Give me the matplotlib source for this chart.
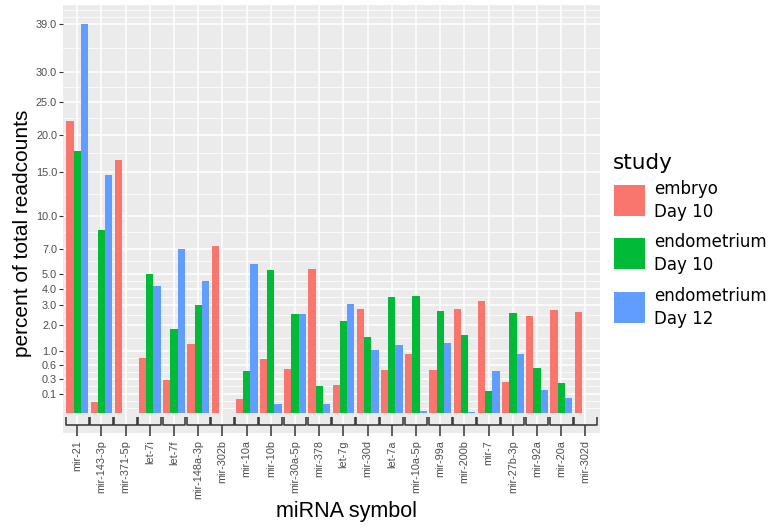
import numpy as np
import matplotlib
matplotlib.use("Agg")
import matplotlib.pyplot as plt
from matplotlib.patches import Rectangle

# values (percent of total readcounts)
mirnas = ["mir-21", "mir-143-3p", "mir-371-5p", "let-7i", "let-7f", "mir-148a-3p",
          "mir-302b", "mir-10a", "mir-10b", "mir-30a-5p", "mir-378", "let-7g",
          "mir-30d", "let-7a", "mir-10a-5p", "mir-99a", "mir-200b", "mir-7",
          "mir-27b-3p", "mir-92a", "mir-20a", "mir-302d"]
embryo_d10 = [22.1, 0.03, 16.6, 0.78, 0.28, 1.22, 7.2, 0.055, 0.77, 0.51, 5.35,
              0.20, 2.78, 0.49, 0.92, 0.49, 2.82, 3.26, 0.25, 2.43, 2.74, 2.62]
endo_d10 = [17.8, 8.7, 0, 5.0, 1.84, 3.0, 0, 0.45, 5.3, 2.55, 0.19,
            2.21, 1.51, 3.46, 3.56, 2.72, 1.57, 0.124, 2.6, 0.54, 0.23, 0]
endo_d12 = [39.0, 14.7, 0, 4.19, 6.97, 4.54, 0, 5.78, 0.024, 2.55, 0.021,
            3.09, 1.02, 1.19, 0.001, 1.26, 0.0005, 0.47, 0.915, 0.14, 0.063, 0]

study_labels = ["embryo\nDay 10", "endometrium\nDay 10", "endometrium\nDay 12"]
colors = ["#F8766D", "#00BA38", "#619CFF"]
yticks = [0.1, 0.3, 0.6, 1.0, 2.0, 3.0, 4.0, 5.0, 7.0, 10.0, 15.0, 20.0, 25.0, 30.0, 39.0]

plt.rcParams['font.family'] = ['Liberation Sans', 'DejaVu Sans']

W, H = 772, 528
fig = plt.figure(figsize=(W / 100, H / 100), dpi=100)

# panel in pixel coords
left, right, top, bottom = 62.7, 600, 5, 432.7
ax = fig.add_axes([left / W, 1 - bottom / H, (right - left) / W, (bottom - top) / H])
ax.set_facecolor("#EBEBEB")


def fwd(y):
    y = np.asarray(y, dtype=float)
    return np.sign(y) * np.sqrt(np.abs(y))


def inv(y):
    y = np.asarray(y, dtype=float)
    return np.sign(y) * y ** 2


ax.set_yscale('function', functions=(fwd, inv))

x = np.arange(len(mirnas))
series = [embryo_d10, endo_d10, endo_d12]
bw = 0.3
for k, vals in enumerate(series):
    ax.bar(x + (k - 1) * bw, vals, width=bw, color=colors[k], linewidth=0, zorder=2)

# limits: sqrt-space range [0, sqrt(39)] expanded by 5%
smax = np.sqrt(max(yticks))
pad = 0.05 * smax
ax.set_ylim(-pad ** 2, (smax + pad) ** 2)
ax.set_xlim(-0.6, len(mirnas) - 0.4)

# major/minor breaks like ggplot (midpoints in transformed space)
sb = np.sqrt(yticks)
d = sb[1] - sb[0]
ext = np.concatenate([[sb[0] - d], sb, [sb[-1] + d]])
mids = (ext[:-1] + ext[1:]) / 2
ax.set_yticks(yticks)
ax.set_yticklabels([f"{v:.1f}" for v in yticks])
ax.set_yticks(list(mids ** 2) + [ext[0] ** 2, ext[-1] ** 2], minor=True)

ax.set_xticks(x)
ax.set_xticklabels(mirnas, rotation=90, ha="center", va="top")

ax.grid(which="major", color="white", linewidth=1.1, zorder=0)
ax.grid(which="minor", axis="y", color="white", linewidth=0.55, zorder=0)
ax.set_axisbelow(True)
for s in ax.spines.values():
    s.set_visible(False)
ax.tick_params(which="minor", length=0)
ax.tick_params(axis="y", which="major", length=2.6, width=0.8, color="#333333",
               labelsize=7.8, labelcolor="#4D4D4D", pad=1.5)
ax.tick_params(axis="x", which="major", length=2.4, width=1.1, color="#333333",
               labelsize=7.8, labelcolor="#4D4D4D", pad=3)

# brackets under each group
tr = ax.get_xaxis_transform()
hw = 0.47
for i in x:
    ax.plot([i - hw, i - hw, i + hw, i + hw], [0.0374, 0.018, 0.018, 0.0374],
            color="#333333", lw=1.1, transform=tr, clip_on=False, zorder=3,
            solid_capstyle="butt")
    ax.plot([i, i], [0.018, 0], color="#333333", lw=1.1, transform=tr,
            clip_on=False, zorder=3, solid_capstyle="butt")

fig.text(23 / W, 1 - 233 / H, "percent of total readcounts",
         rotation=90, ha="center", va="center", fontsize=15)
fig.text(346 / W, 1 - 511 / H, "miRNA symbol", ha="center", va="center", fontsize=15.5)

# legend
fig.text(613 / W, 1 - 169 / H, "study", ha="left", va="baseline",
         fontsize=15.5, family="DejaVu Sans")
key_tops = [185, 238, 292]
for k, lab in enumerate(study_labels):
    y0 = key_tops[k]
    fig.patches.append(Rectangle((614 / W, 1 - (y0 + 31) / H), 31 / W, 31 / H,
                                 transform=fig.transFigure, color=colors[k], lw=0))
    fig.text(654 / W, 1 - (y0 + 15.5) / H, lab, ha="left", va="center",
             fontsize=12, family="DejaVu Sans", linespacing=1.3)

fig.savefig("out.png", dpi=100)
